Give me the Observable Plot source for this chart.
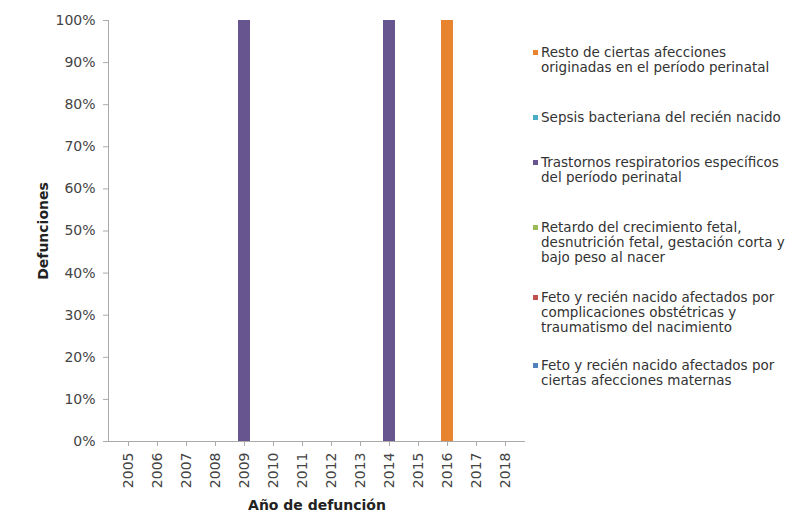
<!DOCTYPE html>
<html>
<head>
<meta charset="utf-8">
<script src="https://cdn.jsdelivr.net/npm/d3@7"></script>
<script src="https://cdn.jsdelivr.net/npm/@observablehq/plot@0.6"></script>
<style>
  body { margin: 0; background: #fff; font-family: "DejaVu Sans", sans-serif; }
  #wrap { position: relative; width: 788px; height: 520px; }
  #legend { position: absolute; left: 533px; top: 0; width: 255px; font-size: 13.5px; color: #333; }
  .item { position: absolute; left: 0; width: 260px; line-height: 15px; padding-left: 8px; white-space: nowrap; }
  .sw { position: absolute; left: 0; top: 5px; width: 5px; height: 5px; }
  g[aria-label$="axis label"] text { font-weight: bold; font-size: 14px; fill: #222; }
</style>
</head>
<body>
<div id="wrap"><div id="chart"></div><div id="legend"></div></div>
<script>
const years = ["2005","2006","2007","2008","2009","2010","2011","2012","2013","2014","2015","2016","2017","2018"];
const causes = [
  "Resto de ciertas afecciones originadas en el período perinatal",
  "Sepsis bacteriana del recién nacido",
  "Trastornos respiratorios específicos del período perinatal",
  "Retardo del crecimiento fetal, desnutrición fetal, gestación corta y bajo peso al nacer",
  "Feto y recién nacido afectados por complicaciones obstétricas y traumatismo del nacimiento",
  "Feto y recién nacido afectados por ciertas afecciones maternas"
];
const legendLines = [
  ["Resto de ciertas afecciones", "originadas en el período perinatal"],
  ["Sepsis bacteriana del recién nacido"],
  ["Trastornos respiratorios específicos", "del período perinatal"],
  ["Retardo del crecimiento fetal,", "desnutrición fetal, gestación corta y", "bajo peso al nacer"],
  ["Feto y recién nacido afectados por", "complicaciones obstétricas y", "traumatismo del nacimiento"],
  ["Feto y recién nacido afectados por", "ciertas afecciones maternas"]
];
const colors = ["#e8832f", "#4bacc6", "#66558f", "#9bbb59", "#c0504d", "#4f81bd"];
// deaths per year and cause (only non-zero values shown)
const deathYears = ["2009", "2014", "2016"];
const deathCauses = [causes[2], causes[2], causes[0]];
const deathCounts = [1, 1, 1];

const data = deathYears.map((y, i) => ({year: y, cause: deathCauses[i], value: deathCounts[i]}));

const chart = Plot.plot({
  width: 788,
  height: 520,
  marginLeft: 108,
  marginRight: 263,
  marginTop: 20,
  marginBottom: 79,
  style: {fontFamily: "'DejaVu Sans', sans-serif", fontSize: "14px", color: "#444"},
  x: {domain: years, paddingInner: 0.6, paddingOuter: 0.3, label: null},
  y: {domain: [0, 1], label: null},
  color: {domain: causes, range: colors},
  marks: [
    Plot.barY(data, Plot.stackY({offset: "normalize"}, {x: "year", y: "value", fill: "cause", order: causes})),
    Plot.ruleY([0], {stroke: "#aaa"}),
    Plot.frame({anchor: "left", stroke: "#aaa"}),
    Plot.axisY({ticks: d3.range(0, 1.01, 0.1), tickFormat: d3.format(".0%"), tickSize: 5, tickPadding: 8, stroke: "#aaa",
      label: "Defunciones", labelAnchor: "center", labelArrow: "none", labelOffset: 70, fontSize: 14}),
    Plot.axisX({tickRotate: -90, tickSize: 5, tickPadding: 6, stroke: "#aaa",
      label: "Año de defunción", labelAnchor: "center", labelArrow: "none", labelOffset: 68, fontSize: 14})
  ]
});
document.getElementById("chart").append(chart);

const tops = [45, 110, 155, 220, 290, 358];
const leg = document.getElementById("legend");
legendLines.forEach((lines, i) => {
  const d = document.createElement("div");
  d.className = "item";
  d.style.top = tops[i] + "px";
  d.innerHTML = `<span class="sw" style="background:${colors[i]}"></span>` + lines.join("<br>");
  leg.append(d);
});
</script>
</body>
</html>
